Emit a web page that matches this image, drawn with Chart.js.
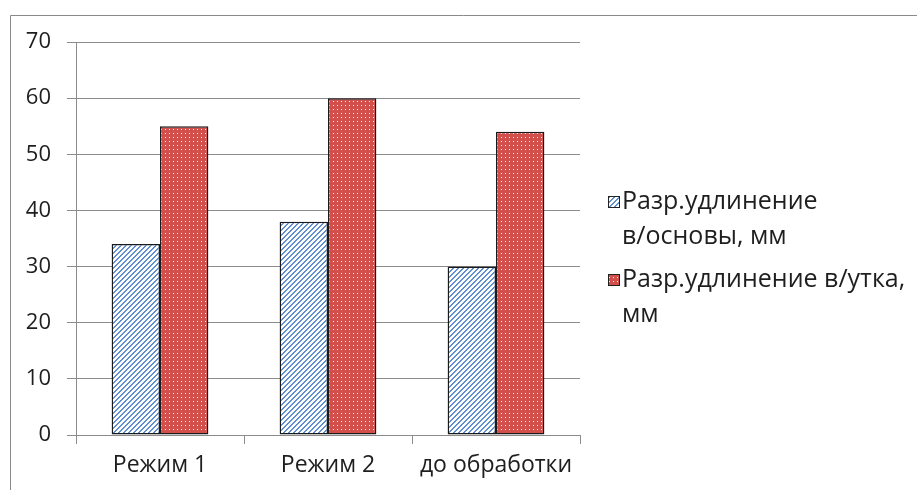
<!DOCTYPE html>
<html>
<head>
<meta charset="utf-8">
<script src="https://cdn.jsdelivr.net/npm/chart.js@4.4.1/dist/chart.umd.min.js"></script>
<style>
  html, body { margin: 0; padding: 0; background: #fff; }
</style>
</head>
<body>
<canvas id="chart1" width="917" height="490"></canvas>
<script>
// data
const categories = ['Режим 1', 'Режим 2', 'до обработки'];
const warpLabel = ['Разр.удлинение', 'в/основы, мм'];
const weftLabel = ['Разр.удлинение в/утка,', 'мм'];
const warpValues = [34, 38, 30];
const weftValues = [55, 60, 54];
const yMin = 0, yMax = 70, yStep = 10;

const textColor = '#1e1e1e';
const gridColor = '#8c8c8c';
const fontFamily = '"Open Sans", "Noto Sans", sans-serif';

// hatch "/" stripes, blue on white
function stripePattern() {
  const c = document.createElement('canvas');
  c.width = 5; c.height = 5;
  const g = c.getContext('2d');
  g.fillStyle = '#fff';
  g.fillRect(0, 0, 5, 5);
  g.fillStyle = '#5f8fd2';
  for (let x = 0; x < 5; x++) {
    for (let y = 0; y < 5; y++) {
      const k = (x + y) % 5;
      if (k === 0 || k === 1) g.fillRect(x, y, 1, 1);
    }
  }
  return g.createPattern(c, 'repeat');
}

// red with small white dots
function dotPattern() {
  const c = document.createElement('canvas');
  c.width = 4; c.height = 4;
  const g = c.getContext('2d');
  g.fillStyle = '#d24f4c';
  g.fillRect(0, 0, 4, 4);
  g.fillStyle = '#ffffff';
  g.fillRect(1, 1, 1, 1);
  return g.createPattern(c, 'repeat');
}

const warpFill = stripePattern();
const weftFill = dotPattern();

const frame = {
  id: 'frame',
  beforeDraw(chart) {
    const ctx = chart.ctx;
    ctx.save();
    ctx.strokeStyle = '#8a8a8a';
    ctx.lineWidth = 1;
    ctx.beginPath();
    ctx.moveTo(10.5, 490);
    ctx.lineTo(10.5, 15.5);
    ctx.lineTo(917, 15.5);
    ctx.stroke();
    ctx.restore();
  }
};

const sideLegend = {
  id: 'sideLegend',
  afterDraw(chart) {
    const ctx = chart.ctx;
    const firstLine = [202, 280];
    const lineStep = 35;
    ctx.save();
    ctx.font = '25px ' + fontFamily;
    ctx.textBaseline = 'middle';
    ctx.textAlign = 'left';
    chart.data.datasets.forEach((ds, i) => {
      const y = firstLine[i];
      ctx.fillStyle = ds.backgroundColor;
      ctx.fillRect(608, y - 6, 12, 12);
      ctx.strokeStyle = '#222';
      ctx.lineWidth = 1;
      ctx.strokeRect(608.5, y - 5.5, 11, 11);
      ctx.fillStyle = textColor;
      ds.label.forEach((line, j) => {
        ctx.fillText(line, 622, y + j * lineStep);
      });
    });
    ctx.restore();
  }
};

new Chart(document.getElementById('chart1'), {
  type: 'bar',
  data: {
    labels: categories,
    datasets: [
      {
        label: warpLabel,
        data: warpValues,
        backgroundColor: warpFill,
        borderColor: '#1a1a1a',
        borderWidth: 1.5,
        borderSkipped: false
      },
      {
        label: weftLabel,
        data: weftValues,
        backgroundColor: weftFill,
        borderColor: '#1a1a1a',
        borderWidth: 1.5,
        borderSkipped: false
      }
    ]
  },
  options: {
    responsive: false,
    animation: false,
    layout: { padding: { top: 42, right: 337, left: 0, bottom: 0 } },
    datasets: {
      bar: { categoryPercentage: 0.576, barPercentage: 1 }
    },
    plugins: {
      legend: { display: false },
      tooltip: { enabled: false }
    },
    scales: {
      x: {
        grid: { drawOnChartArea: false, tickLength: 9, color: gridColor, offset: true },
        border: { color: gridColor },
        ticks: { color: textColor, font: { family: fontFamily, size: 23 }, padding: 8 },
        afterFit: (s) => { s.height = 55; }
      },
      y: {
        min: yMin,
        max: yMax,
        grid: { color: gridColor, tickLength: 9 },
        border: { color: gridColor },
        ticks: { stepSize: yStep, color: textColor, font: { family: fontFamily, size: 22 }, padding: 16 },
        afterFit: (s) => { s.width = 76; }
      }
    }
  },
  plugins: [frame, sideLegend]
});
</script>
</body>
</html>
